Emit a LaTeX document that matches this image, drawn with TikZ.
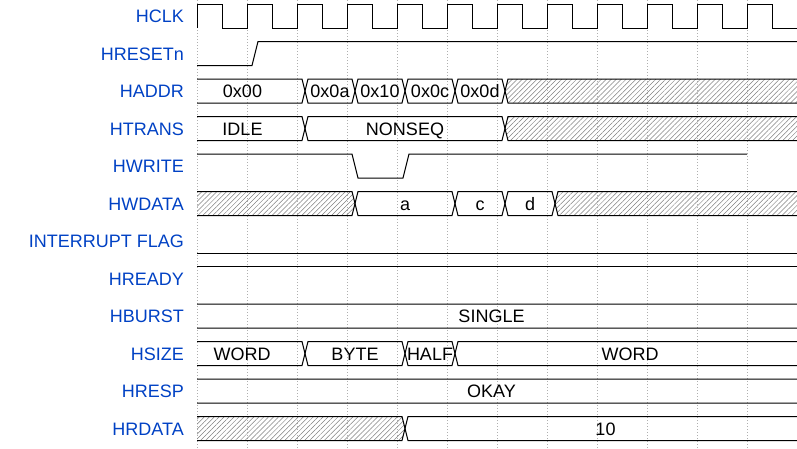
\documentclass[tikz,border=0pt]{standalone}
\usepackage{fontspec}
\setmainfont{Liberation Sans}
\usetikzlibrary{patterns.meta}
\definecolor{sigblue}{RGB}{0,65,196}
\definecolor{gridgray}{RGB}{175,175,175}

\begin{document}
\begin{tikzpicture}[x=1pt,y=-1pt,
  signame/.style={anchor=base east, text=sigblue, font=\fontsize{18}{20}\selectfont, inner sep=0pt},
  val/.style={anchor=base, font=\fontsize{18}{20}\selectfont, inner sep=0pt},
  wave/.style={line width=1pt, line join=miter},
  bus/.style={draw, line width=1pt},
  hatch/.style={draw, line width=1pt, pattern={Lines[angle=45,distance=3.5pt,line width=0.5pt]},
                pattern color=gray},
  gridline/.style={gridgray, line width=0.5pt, dash pattern=on 1pt off 2pt}]

  \useasboundingbox (0,0) rectangle (797,448);

  %% Grid
  \foreach \k in {0,...,11}
    \draw[gridline] ({197+50*\k},0) -- ({197+50*\k},448);

  %% Signal names
  \foreach \name [count=\i from 0] in {HCLK, HRESETn, HADDR, HTRANS, HWRITE, HWDATA,
      INTERRUPT FLAG, HREADY, HBURST, HSIZE, HRESP, HRDATA}
    \node[signame] (sig\i) at (184, {22.5+37.5*\i}) {\name};

  %% Clock
  \draw[wave] (197,28) foreach \k in {0,...,11} {
    -- ({197+50*\k},4) -- ({222+50*\k},4) -- ({222+50*\k},28) -- ({247+50*\k},28) };

  %% Single-bit waves
  \draw[wave] (197,65.5) -- (252,65.5) -- (258,41.5) -- (797,41.5);
  \draw[wave] (197,154) -- (352,154) -- (358,178) -- (403,178) -- (409,154) -- (747,154);
  \draw[wave] (197,253) -- (797,253);
  \draw[wave] (197,266.5) -- (797,266.5);

  %% Buses
  \begin{scope}
    \clip (197,0) rectangle (797,448);
    \foreach \m/\a/\b in {91/191/305, 91/305/355, 91/355/405, 91/405/455, 91/455/505,
        128.5/191/305, 128.5/305/505,
        203.5/355/455, 203.5/455/505, 203.5/505/555,
        316/191/803,
        353.5/191/305, 353.5/305/405, 353.5/405/455, 353.5/455/803,
        391/191/803,
        428.5/405/803}
      \path[bus] (\a,\m) -- ({\a+3},{\m-12}) -- ({\b-3},{\m-12}) -- (\b,\m)
        -- ({\b-3},{\m+12}) -- ({\a+3},{\m+12}) -- cycle;
    \foreach \m/\a/\b in {91/505/803, 128.5/505/803, 203.5/191/355, 203.5/555/803,
        428.5/191/405}
      \path[hatch] (\a,\m) -- ({\a+3},{\m-12}) -- ({\b-3},{\m-12}) -- (\b,\m)
        -- ({\b-3},{\m+12}) -- ({\a+3},{\m+12}) -- cycle;
  \end{scope}

  %% Bus values
  \foreach \m/\x/\t [count=\j] in {91/242.5/0x00, 91/330/0x0a, 91/380/0x10, 91/430/0x0c,
      91/480/0x0d, 128.5/242.5/IDLE, 128.5/405/NONSEQ,
      203.5/405/a, 203.5/480/c, 203.5/530/d,
      316/491.5/SINGLE,
      353.5/242/WORD, 353.5/355/BYTE, 353.5/430/HALF, 353.5/630/WORD,
      391/491.5/OKAY, 428.5/605.5/10}
    \node[val] (val\j) at (\x, {\m+6.5}) {\t};
\end{tikzpicture}
\end{document}
